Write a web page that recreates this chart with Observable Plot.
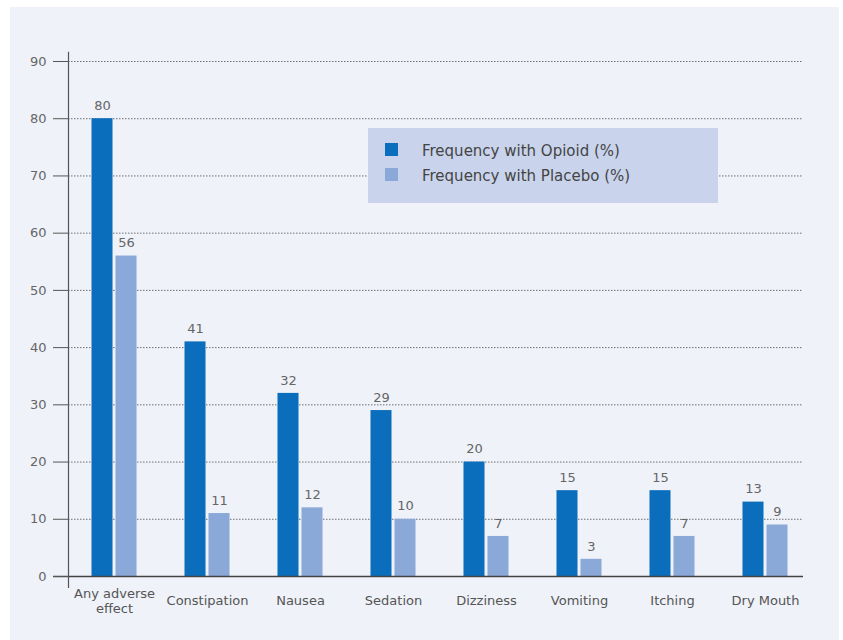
<!DOCTYPE html>
<html>
<head>
<meta charset="utf-8">
<script src="https://cdn.jsdelivr.net/npm/d3@7"></script>
<script src="https://cdn.jsdelivr.net/npm/@observablehq/plot@0.6"></script>
<style>
  html, body { margin: 0; padding: 0; background: #ffffff; }
  #wrap { position: relative; width: 843px; height: 640px; overflow: hidden; font-family: "DejaVu Sans", sans-serif; }
  #panel { position: absolute; left: 10px; top: 7px; width: 829px; height: 640px; background: #eff2f9; }
  #chart { position: absolute; left: 0; top: 0; }
  #legend { position: absolute; left: 368px; top: 128px; width: 350px; height: 75px; background: #c9d4ec; }
  .sw { position: absolute; left: 17px; width: 13px; height: 13px; }
  .lt { position: absolute; left: 54px; font-size: 15px; color: #444; line-height: 20px; white-space: nowrap; }
</style>
</head>
<body>
<div id="wrap">
  <div id="panel"></div>
  <div id="chart"></div>
  <div id="legend"></div>
</div>
<script>
const categories = ["Any adverse\neffect", "Constipation", "Nausea", "Sedation", "Dizziness", "Vomiting", "Itching", "Dry Mouth"];
const opioid = [80, 41, 32, 29, 20, 15, 15, 13];
const placebo = [56, 11, 12, 10, 7, 3, 7, 9];
const seriesNames = ["Frequency with Opioid (%)", "Frequency with Placebo (%)"];
const seriesColors = ["#0a6ebd", "#8aa8d8"];
const yTicks = [0, 10, 20, 30, 40, 50, 60, 70, 80, 90];

const data = categories.map((c, i) => ({category: c, opioid: opioid[i], placebo: placebo[i]}));
const singleLine = categories.filter(c => !c.includes("\n"));
const multiLine = categories.filter(c => c.includes("\n"));

const chart = Plot.plot({
  width: 843,
  height: 640,
  marginTop: 61,
  marginBottom: 64,
  marginLeft: 68,
  marginRight: 32,
  style: {background: "transparent", fontFamily: "'DejaVu Sans', sans-serif"},
  x: {domain: categories, paddingInner: 0.516, paddingOuter: 0.2527, round: false, axis: null},
  y: {domain: [0, 90], axis: null},
  marks: [
    Plot.ruleY(yTicks.filter(d => d > 0), {stroke: "#6f6f6f", strokeDasharray: "1.5,1.5", insetRight: 8}),
    Plot.barY(data, {x: "category", y: "opioid", fill: seriesColors[0], insetRight: 24}),
    Plot.barY(data, {x: "category", y: "placebo", fill: seriesColors[1], insetLeft: 24}),
    Plot.text(data, {x: "category", y: "opioid", text: d => String(d.opioid), dx: -12, dy: -13, fontSize: 13, fill: "#666"}),
    Plot.text(data, {x: "category", y: "placebo", text: d => String(d.placebo), dx: 12, dy: -13, fontSize: 13, fill: "#666"}),
    Plot.ruleY([0], {stroke: "#444", strokeWidth: 1.5, insetLeft: -15, insetRight: 8}),
    Plot.ruleX([categories[0]], {dx: -46, y1: -2.1, y2: 91.6, stroke: "#555", strokeWidth: 1.2}),
    Plot.axisY({ticks: yTicks, tickSize: 15, tickPadding: 7, fontSize: 13, fill: "#666", stroke: "#555"}),
    Plot.text(singleLine, {x: d => d, frameAnchor: "bottom", dy: 28, fontSize: 13, fill: "#555"}),
    Plot.text(multiLine, {x: d => d, frameAnchor: "bottom", dy: 36, lineHeight: 1.08, fontSize: 13, fill: "#555"})
  ]
});
document.getElementById("chart").appendChild(chart);

const legend = document.getElementById("legend");
seriesNames.forEach((name, i) => {
  const sw = document.createElement("div");
  sw.className = "sw";
  sw.style.top = (15 + i * 25) + "px";
  sw.style.background = seriesColors[i];
  legend.appendChild(sw);
  const t = document.createElement("div");
  t.className = "lt";
  t.style.top = (13 + i * 25) + "px";
  t.textContent = name;
  legend.appendChild(t);
});
</script>
</body>
</html>
